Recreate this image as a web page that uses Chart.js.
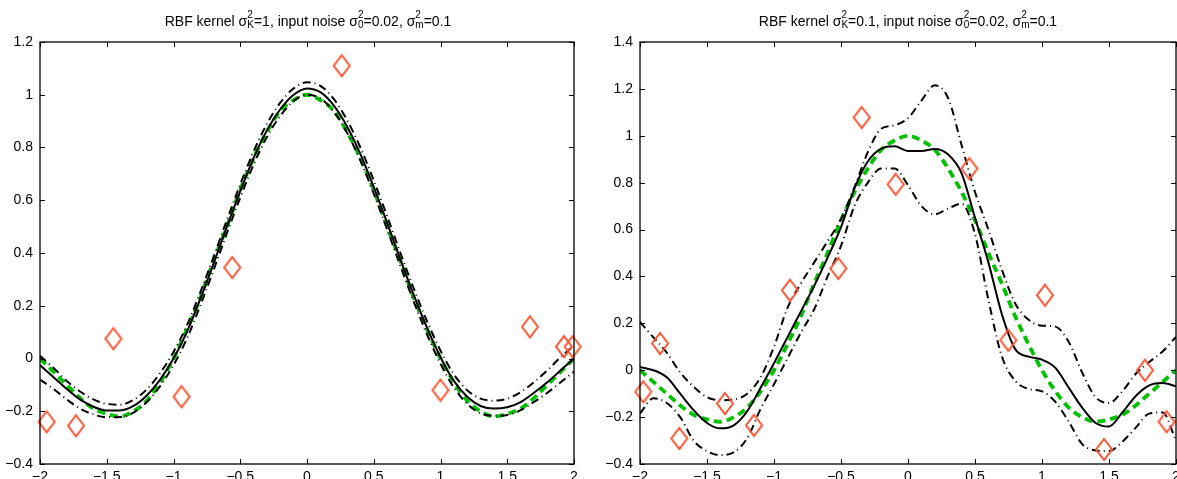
<!DOCTYPE html>
<html>
<head>
<meta charset="utf-8">
<script src="https://cdn.jsdelivr.net/npm/chart.js@4.4.1/dist/chart.umd.min.js"></script>
<style>
  html, body { margin: 0; padding: 0; background: #fff; overflow: hidden; width: 1177px; height: 479px; }
  .panel { position: absolute; top: 0; }
  .title {
    position: absolute; top: 10px; width: 536px; text-align: center; white-space: nowrap;
    font: 14px/14px "Liberation Sans", Arial, sans-serif; color: #000;
  }
  .ss {
    display: inline-flex; flex-direction: column; vertical-align: 8px;
    font-size: 10px; line-height: 10px; text-align: left;
  }
</style>
</head>
<body>
<div class="panel" style="left:0;width:585px;height:500px"><canvas id="left" width="585" height="500"></canvas></div>
<div class="panel" style="left:590px;width:600px;height:500px"><canvas id="right" width="600" height="500"></canvas></div>
<div class="title" style="left:40px">RBF kernel σ<span class="ss"><span>2</span><span>K</span></span>=1, input noise σ<span class="ss"><span>2</span><span>0</span></span>=0.02, σ<span class="ss"><span>2</span><span>m</span></span>=0.1</div>
<div class="title" style="left:640px">RBF kernel σ<span class="ss"><span>2</span><span>K</span></span>=0.1, input noise σ<span class="ss"><span>2</span><span>0</span></span>=0.02, σ<span class="ss"><span>2</span><span>m</span></span>=0.1</div>
<script>
// x positions where the curves were read
const xs = [-2, -1.9, -1.8, -1.7, -1.6, -1.5, -1.4, -1.3, -1.2, -1.1, -1, -0.9, -0.8, -0.7, -0.6, -0.5, -0.4, -0.3, -0.2, -0.1,
  0, 0.1, 0.2, 0.3, 0.4, 0.5, 0.6, 0.7, 0.8, 0.9, 1, 1.1, 1.2, 1.3, 1.4, 1.5, 1.6, 1.7, 1.8, 1.9, 2];

// true function (green dashed), same in both panels
const trueFn = [0, -0.05, -0.10, -0.15, -0.19, -0.21, -0.22, -0.20, -0.16, -0.09, 0, 0.11, 0.23, 0.37, 0.50, 0.64, 0.76, 0.86, 0.94, 0.98,
  1, 0.98, 0.94, 0.86, 0.76, 0.64, 0.50, 0.37, 0.23, 0.11, 0, -0.09, -0.16, -0.20, -0.22, -0.21, -0.19, -0.15, -0.10, -0.05, 0];

// left panel
const leftMean = [-0.025, -0.07, -0.115, -0.155, -0.183, -0.197, -0.197, -0.18, -0.14, -0.08, 0, 0.10, 0.225, 0.36, 0.50, 0.635, 0.76, 0.865, 0.945, 1.0,
  1.024, 1.01, 0.96, 0.88, 0.775, 0.65, 0.515, 0.375, 0.24, 0.115, 0.005, -0.085, -0.145, -0.18, -0.19, -0.185, -0.165, -0.13, -0.09, -0.045, 0];
const leftUpper = [0.01, -0.035, -0.085, -0.125, -0.155, -0.172, -0.175, -0.157, -0.117, -0.055, 0.025, 0.125, 0.25, 0.385, 0.525, 0.66, 0.785, 0.89, 0.97, 1.024,
  1.047, 1.034, 0.984, 0.904, 0.8, 0.675, 0.54, 0.4, 0.265, 0.14, 0.03, -0.06, -0.12, -0.152, -0.16, -0.152, -0.128, -0.09, -0.045, 0.005, 0.05];
const leftLower = [-0.08, -0.115, -0.155, -0.19, -0.212, -0.223, -0.222, -0.205, -0.165, -0.105, -0.025, 0.075, 0.2, 0.335, 0.475, 0.61, 0.735, 0.84, 0.92, 0.976,
  1.0, 0.986, 0.936, 0.856, 0.75, 0.625, 0.49, 0.35, 0.215, 0.09, -0.02, -0.11, -0.172, -0.208, -0.217, -0.214, -0.196, -0.165, -0.13, -0.09, -0.05];
const leftPtsX = [-1.95, -1.73, -1.45, -0.94, -0.56, 0.26, 1.0, 1.67, 1.925, 1.99];
const leftPtsY = [-0.24, -0.255, 0.075, -0.145, 0.345, 1.11, -0.12, 0.12, 0.045, 0.045];

// right panel
const rightMean = [0.014, 0.0, -0.03, -0.1, -0.17, -0.225, -0.248, -0.235, -0.175, -0.075, 0.03, 0.14, 0.25, 0.36, 0.48, 0.61, 0.775, 0.89, 0.945, 0.955,
  0.935, 0.935, 0.944, 0.92, 0.84, 0.65, 0.46, 0.24, 0.09, 0.058, 0.045, 0.01, -0.075, -0.16, -0.225, -0.24, -0.18, -0.11, -0.065, -0.055, -0.068];
const rightUpper = [0.206, 0.14, 0.075, -0.01, -0.07, -0.115, -0.128, -0.125, -0.1, -0.03, 0.1, 0.265, 0.37, 0.46, 0.55, 0.645, 0.78, 0.93, 1.03, 1.045,
  1.075, 1.15, 1.215, 1.16, 0.96, 0.76, 0.6, 0.43, 0.285, 0.215, 0.19, 0.186, 0.12, -0.01, -0.115, -0.14, -0.09, -0.015, 0.035, 0.08, 0.142];
const rightLower = [-0.185, -0.12, -0.14, -0.2, -0.3, -0.345, -0.362, -0.35, -0.29, -0.165, -0.06, 0.05, 0.16, 0.26, 0.40, 0.53, 0.70, 0.80, 0.86, 0.86,
  0.79, 0.70, 0.665, 0.69, 0.71, 0.58, 0.3, 0.06, -0.045, -0.08, -0.09, -0.135, -0.22, -0.315, -0.342, -0.345, -0.305, -0.245, -0.185, -0.18, -0.30];
const rightPtsX = [-1.975, -1.85, -1.707, -1.366, -1.149, -0.881, -0.52, -0.346, -0.092, 0.458, 0.749, 1.022, 1.463, 1.769, 1.93];
const rightPtsY = [-0.092, 0.114, -0.291, -0.142, -0.235, 0.341, 0.434, 1.078, 0.793, 0.86, 0.128, 0.32, -0.338, 0.0, -0.22];

// tick values
const xTicks = [-2, -1.5, -1, -0.5, 0, 0.5, 1, 1.5, 2];
const leftYTicks = [-0.4, -0.2, 0, 0.2, 0.4, 0.6, 0.8, 1, 1.2];
const rightYTicks = [-0.4, -0.2, 0, 0.2, 0.4, 0.6, 0.8, 1, 1.2, 1.4];

const tickFont = { family: "'Liberation Sans', Arial, sans-serif", size: 14 };
const fmt = v => String(Math.round(v * 10) / 10).replace('-', '\u2212');
const pairs = (xv, yv) => xv.map((x, i) => ({ x, y: yv[i] }));

// elongated hollow diamond marker
function diamond(w, h, color) {
  const c = document.createElement('canvas');
  c.width = w + 4; c.height = h + 4;
  const g = c.getContext('2d');
  g.strokeStyle = color; g.lineWidth = 2;
  g.beginPath();
  g.moveTo(c.width / 2, 2); g.lineTo(c.width - 2, c.height / 2);
  g.lineTo(c.width / 2, c.height - 2); g.lineTo(2, c.height / 2);
  g.closePath(); g.stroke();
  return c;
}
const marker = diamond(16, 21, '#ff5533');

// matlab-like box with inward ticks on all sides
const boxPlugin = {
  id: 'box',
  afterDraw(chart) {
    const { ctx, chartArea: a, scales: { x, y } } = chart;
    ctx.save();
    ctx.strokeStyle = '#000';
    ctx.lineWidth = 1;
    ctx.beginPath();
    x.ticks.forEach(t => {
      const px = Math.round(x.getPixelForValue(t.value)) + 0.5;
      ctx.moveTo(px, a.bottom); ctx.lineTo(px, a.bottom - 5);
      ctx.moveTo(px, a.top); ctx.lineTo(px, a.top + 5);
    });
    y.ticks.forEach(t => {
      const py = Math.round(y.getPixelForValue(t.value)) + 0.5;
      ctx.moveTo(a.left, py); ctx.lineTo(a.left + 5, py);
      ctx.moveTo(a.right, py); ctx.lineTo(a.right - 5, py);
    });
    ctx.stroke();
    ctx.lineWidth = 1.3;
    ctx.strokeRect(a.left, a.top, a.right - a.left, a.bottom - a.top);
    ctx.restore();
  }
};

function makeChart(id, mean, upper, lower, ptsX, ptsY, yTicks, yMax, yWidth, padRight) {
  const line = (data, color, width, dash, order) => ({
    type: 'line', data: pairs(xs, data), borderColor: color, borderWidth: width, borderDash: dash,
    pointRadius: 0, fill: false, cubicInterpolationMode: 'monotone', order
  });
  new Chart(document.getElementById(id), {
    type: 'scatter',
    data: {
      datasets: [
        { type: 'scatter', data: pairs(ptsX, ptsY), pointStyle: marker, pointRadius: 10, clip: false, order: 0 },
        line(mean, '#000', 2, [], 1),
        line(upper, '#000', 2, [8, 4, 1, 4], 2),
        line(lower, '#000', 2, [8, 4, 1, 4], 2),
        line(trueFn, '#00c000', 3.8, [8, 5], 3)
      ]
    },
    options: {
      responsive: false,
      animation: false,
      layout: { padding: { top: 42, right: padRight, left: 0, bottom: 0 } },
      scales: {
        x: {
          type: 'linear', min: -2, max: 2,
          afterBuildTicks: s => { s.ticks = xTicks.map(v => ({ value: v })); },
          afterFit: s => { s.height = 36; },
          grid: { display: false, drawTicks: false }, border: { display: false },
          ticks: { font: tickFont, color: '#000', padding: 5, maxRotation: 0, callback: fmt }
        },
        y: {
          type: 'linear', min: -0.4, max: yMax,
          afterBuildTicks: s => { s.ticks = yTicks.map(v => ({ value: v })); },
          afterFit: s => { s.width = yWidth; },
          grid: { display: false, drawTicks: false }, border: { display: false },
          ticks: { font: tickFont, color: '#000', padding: 7, callback: fmt }
        }
      },
      plugins: { legend: { display: false }, tooltip: { enabled: false } }
    },
    plugins: [boxPlugin]
  });
}

makeChart('left', leftMean, leftUpper, leftLower, leftPtsX, leftPtsY, leftYTicks, 1.2, 40, 9);
makeChart('right', rightMean, rightUpper, rightLower, rightPtsX, rightPtsY, rightYTicks, 1.4, 50, 14);
</script>
</body>
</html>
